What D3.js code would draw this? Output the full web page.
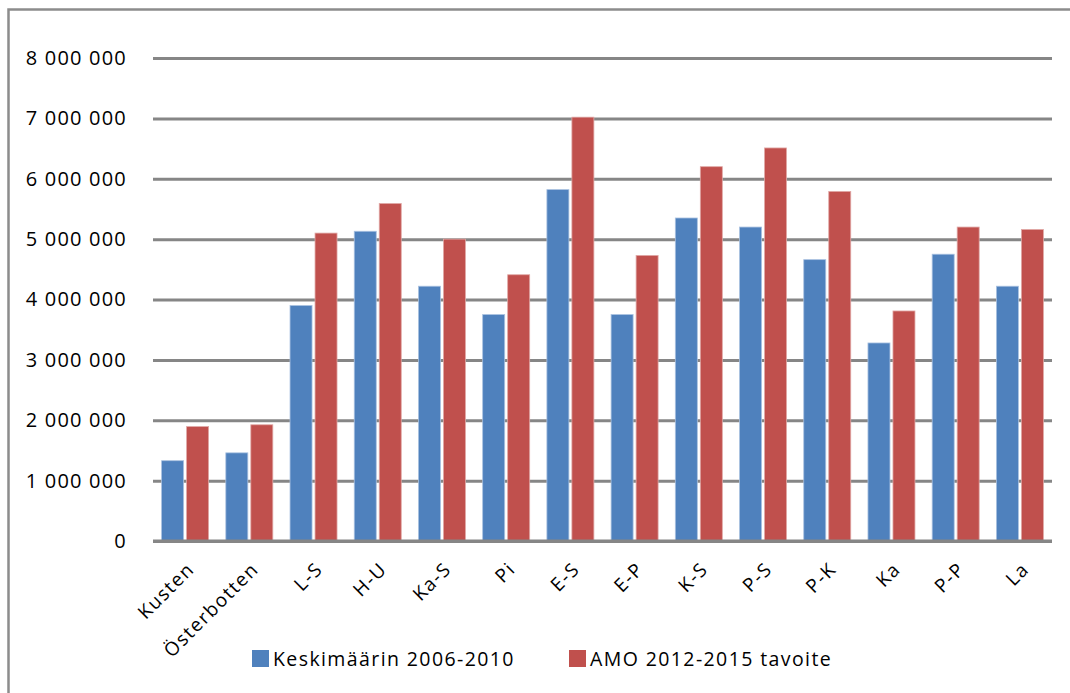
<!DOCTYPE html>
<html>
<head>
<meta charset="utf-8">
<script src="https://cdn.jsdelivr.net/npm/d3@7/dist/d3.min.js"></script>
<style>
  body { margin: 0; background: #fff; }
  svg text { font-family: "Open Sans", "DejaVu Sans", sans-serif; fill: #000; }
</style>
</head>
<body>
<div id="chart"></div>
<script>
// data
var categories = ["Kusten", "Österbotten", "L-S", "H-U", "Ka-S", "Pi", "E-S", "E-P", "K-S", "P-S", "P-K", "Ka", "P-P", "La"];
var seriesNames = ["Keskimäärin 2006-2010", "AMO 2012-2015 tavoite"];
var avg2006 = [1330000, 1460000, 3900000, 5130000, 4220000, 3750000, 5820000, 3750000, 5350000, 5200000, 4660000, 3280000, 4750000, 4220000];
var goal2012 = [1895000, 1925000, 5100000, 5590000, 5000000, 4410000, 7020000, 4730000, 6200000, 6510000, 5790000, 3810000, 5200000, 5160000];
var yTicks = [0, 1000000, 2000000, 3000000, 4000000, 5000000, 6000000, 7000000, 8000000];
var colors = ["#4F81BD", "#C0504D"];

var svgWidth = 1070;
var svgHeight = 693;

var margin = {top: 58, left: 153, right: 18, bottom: 152};
var width = svgWidth - margin.left - margin.right;
var height = svgHeight - margin.top - margin.bottom;

var svg = d3.select("#chart")
    .append("svg")
    .attr("width", svgWidth)
    .attr("height", svgHeight);

// outer frame (runs off the right and bottom edges)
svg.append("rect")
    .attr("x", 8.5)
    .attr("y", 9.5)
    .attr("width", svgWidth + 20)
    .attr("height", svgHeight + 20)
    .attr("fill", "none")
    .attr("stroke", "#8c8c8c")
    .attr("stroke-width", 2.5);

var chartGroup = svg.append("g")
    .attr("transform", `translate(${margin.left}, ${margin.top})`);

var xScale = d3.scaleBand()
    .domain(categories)
    .range([0, width]);

var yScale = d3.scaleLinear()
    .domain([0, 8000000])
    .range([height, 0]);

var barW = 22, gap = 3;

// gridlines + y labels via axis
var leftAxis = d3.axisLeft(yScale)
    .tickValues(yTicks)
    .tickSize(-width)
    .tickPadding(26)
    .tickFormat(d => d3.format(",")(d).replace(/,/g, " "));

var yAxis = chartGroup.append("g").call(leftAxis);
yAxis.select(".domain").remove();
yAxis.selectAll(".tick line")
    .attr("stroke", "#868686")
    .attr("stroke-width", 3);
yAxis.selectAll(".tick text")
    .attr("font-size", "20px")
    .attr("letter-spacing", "1.2px")
    .style("font-family", "'Open Sans', sans-serif");

// bars
var seriesData = [avg2006, goal2012];
seriesData.forEach(function(vals, s) {
    chartGroup.selectAll(".bar" + s)
        .data(vals)
        .enter()
        .append("rect")
        .attr("class", "bar" + s)
        .attr("x", (d, i) => xScale(categories[i]) + xScale.bandwidth() / 2 - barW - gap / 2 + s * (barW + gap))
        .attr("y", d => yScale(d))
        .attr("width", barW)
        .attr("height", d => height - yScale(d))
        .attr("fill", colors[s])
        .attr("stroke", s == 0 ? "#a9c1e0" : "#e0a8a6")
        .attr("stroke-width", 0.8);
});

// zero line on top
chartGroup.append("line")
    .attr("x1", 0)
    .attr("x2", width)
    .attr("y1", yScale(0))
    .attr("y2", yScale(0))
    .attr("stroke", "#868686")
    .attr("stroke-width", 3);

// category labels rotated
chartGroup.selectAll(".catlabel")
    .data(categories)
    .enter()
    .append("text")
    .attr("class", "catlabel")
    .attr("transform", d => `translate(${xScale(d) + xScale.bandwidth() / 2 + 1}, ${height + 20}) rotate(-45)`)
    .attr("text-anchor", "end")
    .attr("dy", "0.7em")
    .attr("font-size", "19px")
    .attr("letter-spacing", "1.5px")
    .text(d => d);

// legend
var legendX = [252, 569];
var legend = svg.selectAll(".legend")
    .data(seriesNames)
    .enter()
    .append("g")
    .attr("class", "legend")
    .attr("transform", (d, i) => `translate(${legendX[i]}, 650)`);

legend.append("rect")
    .attr("width", 17)
    .attr("height", 17)
    .attr("fill", (d, i) => colors[i]);

legend.append("text")
    .attr("x", 21)
    .attr("y", 16)
    .attr("font-size", "19.5px")
    .attr("letter-spacing", "1.4px")
    .text(d => d);
</script>
</body>
</html>
